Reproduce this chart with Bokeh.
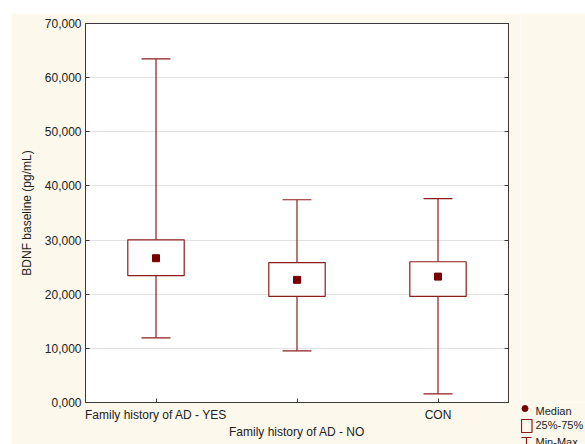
from bokeh.plotting import figure
from bokeh.models import Range1d, FixedTicker, LinearAxis, ColumnDataSource, Spacer
from bokeh.layouts import column, row
from bokeh.core.properties import value
from bokeh.embed import file_html
from bokeh.resources import INLINE

# ---- data ----
groups = ["Family history of AD - YES", "Family history of AD - NO", "CON"]
positions = [0, 1, 2]
mins = [11950, 9550, 1600]
q1 = [23450, 19600, 19600]
medians = [26650, 22650, 23250]
q3 = [30050, 25850, 26000]
maxs = [63450, 37450, 37650]

y_ticks = [0, 10000, 20000, 30000, 40000, 50000, 60000, 70000]
y_tick_labels = ["0,000", "10,000", "20,000", "30,000", "40,000", "50,000", "60,000", "70,000"]
y_title = "BDNF baseline (pg/mL)"
legend_labels = ["Median", "25%-75%", "Min-Max"]

BOX_W = 0.40
CAP_W = 0.205
RED = "#8b1c1c"
DOT = "#7a0000"
BG = "#fdf8ec"
FONT = "Liberation Sans"

W, H = 509, 431
p = figure(width=W, height=H, output_backend="svg", toolbar_location=None,
           x_range=Range1d(-0.5, 2.5), y_range=Range1d(0, 70000),
           min_border_left=74, min_border_right=12, min_border_top=10, min_border_bottom=42)
p.background_fill_color = "white"
p.border_fill_color = BG
p.outline_line_color = "#3a3a3a"
p.outline_line_width = 1

# grids
p.xgrid.visible = False
p.ygrid.grid_line_color = "#e2e2e2"
p.ygrid.grid_line_width = 1

# y axis
ya = p.yaxis[0]
ya.ticker = FixedTicker(ticks=y_ticks)
ya.major_label_overrides = {t: s for t, s in zip(y_ticks, y_tick_labels)}
ya.minor_tick_line_color = None
ya.major_tick_in = 4
ya.major_tick_out = 0
ya.major_tick_line_color = "#3a3a3a"
ya.axis_line_color = "#3a3a3a"
ya.major_label_standoff = 4
ya.major_label_text_font = FONT
ya.major_label_text_font_size = "12px"
ya.major_label_text_color = "#222222"
ya.axis_label = y_title
ya.axis_label_text_font = FONT
ya.axis_label_text_font_size = "12px"
ya.axis_label_text_font_style = "normal"
ya.axis_label_text_color = "#222222"
ya.axis_label_standoff = 8

# right axis (ticks only)
ra = LinearAxis(ticker=FixedTicker(ticks=y_ticks))
ra.major_label_text_font_size = "0px"
ra.major_label_text_color = None
ra.major_label_standoff = 0
ra.minor_tick_line_color = None
ra.major_tick_in = 4
ra.major_tick_out = 0
ra.major_tick_line_color = "#3a3a3a"
ra.axis_line_color = "#3a3a3a"
p.add_layout(ra, "right")

# x axis (staggered labels)
xa = p.xaxis[0]
xa.ticker = FixedTicker(ticks=positions)
xa.major_label_overrides = {positions[0]: groups[0], positions[1]: "", positions[2]: groups[2]}
xa.minor_tick_line_color = None
xa.major_tick_in = 4
xa.major_tick_out = 0
xa.major_tick_line_color = "#3a3a3a"
xa.axis_line_color = "#3a3a3a"
xa.major_label_standoff = 5
xa.major_label_text_font = FONT
xa.major_label_text_font_size = "12px"
xa.major_label_text_color = "#222222"

xa2 = LinearAxis(ticker=FixedTicker(ticks=[positions[1]]))
xa2.major_label_overrides = {positions[1]: groups[1]}
xa2.axis_line_color = None
xa2.major_tick_line_color = None
xa2.minor_tick_line_color = None
xa2.major_label_standoff = -6
xa2.major_label_text_font = FONT
xa2.major_label_text_font_size = "12px"
xa2.major_label_text_color = "#222222"
p.add_layout(xa2, "below")

# ---- boxes ----
src = ColumnDataSource(dict(
    x=positions, mins=mins, q1=q1, med=medians, q3=q3, maxs=maxs,
    left=[x - BOX_W / 2 for x in positions], right=[x + BOX_W / 2 for x in positions],
    cl=[x - CAP_W / 2 for x in positions], cr=[x + CAP_W / 2 for x in positions],
))
p.segment(x0="x", y0="mins", x1="x", y1="q1", source=src, line_color=RED, line_width=1.2)
p.segment(x0="x", y0="q3", x1="x", y1="maxs", source=src, line_color=RED, line_width=1.2)
p.segment(x0="cl", y0="mins", x1="cr", y1="mins", source=src, line_color=RED, line_width=1.2)
p.segment(x0="cl", y0="maxs", x1="cr", y1="maxs", source=src, line_color=RED, line_width=1.2)
p.quad(left="left", right="right", bottom="q1", top="q3", source=src,
       fill_color="white", line_color=RED, line_width=1.2)
p.scatter(x="x", y="med", source=src, marker="square", size=7, color=DOT)


def blank(w, h):
    f = figure(width=w, height=h, output_backend="svg", toolbar_location=None,
               x_range=Range1d(0, w), y_range=Range1d(0, h), min_border=0)
    f.axis.visible = False
    f.grid.visible = False
    f.outline_line_color = None
    f.background_fill_color = BG
    f.border_fill_color = BG
    return f


# filler to the right of the plot
filler = blank(65, 389)
filler.scatter(x=[-10], y=[-10], size=1, alpha=0)

# legend panel (pixel coordinates, y up)
lg = blank(65, 42)
lg.scatter(x=[4.5], y=[36], marker="circle", size=6, color=DOT)
lg.quad(left=[1], right=[11.5], bottom=[12], top=[25], fill_color=None, line_color=RED, line_width=1.2)
lg.segment(x0=[1, 6], y0=[7, 7], x1=[11, 6], y1=[7, -6], line_color=RED, line_width=1.2)
lg.text(x=[15, 15, 15], y=[34, 20, 3], text=legend_labels, text_font=value(FONT),
        text_font_size="11px", text_color="#222222", text_baseline="middle")

layout = column(Spacer(height=13, width=585),
                row(Spacer(width=11, height=H), p, column(filler, lg)))
open("out.html", "w").write(file_html(layout, INLINE))
